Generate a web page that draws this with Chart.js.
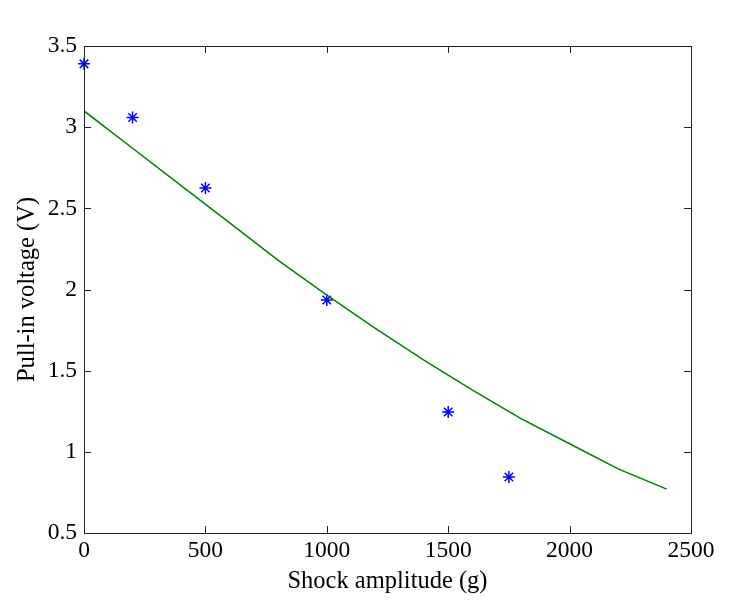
<!DOCTYPE html>
<html>
<head>
<meta charset="utf-8">
<script src="https://cdn.jsdelivr.net/npm/chart.js@4/dist/chart.umd.min.js"></script>
<style>
  html, body { margin: 0; padding: 0; background: #fff; }
  #wrap { width: 750px; height: 613px; }
</style>
</head>
<body>
<div id="wrap"><canvas id="canvas" width="750" height="613"></canvas></div>
<script>
// simulated curve
const modelX = [0, 200, 400, 600, 800, 1000, 1200, 1400, 1600, 1800, 2000, 2200, 2400];
const modelV = [3.10, 2.87, 2.64, 2.41, 2.18, 1.965, 1.76, 1.565, 1.38, 1.205, 1.05, 0.895, 0.77];

// measured points
const measX = [0, 200, 500, 1000, 1500, 1750];
const measV = [3.39, 3.06, 2.625, 1.935, 1.245, 0.845];

const xTicks = [0, 500, 1000, 1500, 2000, 2500];
const yTicks = [0.5, 1, 1.5, 2, 2.5, 3, 3.5];

const tickFont = { family: "'Liberation Serif', 'Times New Roman', serif", size: 23.5 };
const titleFont = { family: "'Liberation Serif', 'Times New Roman', serif", size: 24.5 };
const axisColor = "#222";

// matlab-style box with inward ticks on all four sides
const boxTicks = {
  id: "boxTicks",
  afterDraw(chart) {
    const { ctx, chartArea: a, scales } = chart;
    const len = 7;
    ctx.save();
    ctx.strokeStyle = axisColor;
    ctx.lineWidth = 1;
    ctx.strokeRect(a.left + 0.5, a.top + 0.5, a.right - a.left, a.bottom - a.top);
    ctx.beginPath();
    xTicks.forEach((v) => {
      const px = Math.round(scales.x.getPixelForValue(v)) + 0.5;
      ctx.moveTo(px, a.bottom);
      ctx.lineTo(px, a.bottom - len);
      ctx.moveTo(px, a.top);
      ctx.lineTo(px, a.top + len);
    });
    yTicks.forEach((v) => {
      const py = Math.round(scales.y.getPixelForValue(v)) + 0.5;
      ctx.moveTo(a.left, py);
      ctx.lineTo(a.left + len, py);
      ctx.moveTo(a.right, py);
      ctx.lineTo(a.right - len, py);
    });
    ctx.stroke();
    ctx.restore();
  },
};

const ctx = document.getElementById("canvas").getContext("2d");

new Chart(ctx, {
  type: "scatter",
  data: {
    datasets: [
      {
        label: "Model",
        data: modelX.map((x, i) => ({ x: x, y: modelV[i] })),
        showLine: true,
        borderColor: "#008000",
        borderWidth: 1.5,
        pointRadius: 0,
        tension: 0,
      },
      {
        label: "Measured",
        data: measX.map((x, i) => ({ x: x, y: measV[i] })),
        pointStyle: "star",
        pointRadius: 6,
        borderColor: "#0000ff",
        backgroundColor: "#0000ff",
        borderWidth: 1.5,
        clip: false,
      },
    ],
  },
  options: {
    responsive: false,
    animation: false,
    layout: { padding: { left: 0, top: 46, right: 59, bottom: 0 } },
    plugins: {
      legend: { display: false },
      tooltip: { enabled: false },
    },
    scales: {
      x: {
        type: "linear",
        min: 0,
        max: 2500,
        afterBuildTicks: (scale) => {
          scale.ticks = xTicks.map((v) => ({ value: v }));
        },
        afterFit: (scale) => {
          scale.height = 80;
        },
        ticks: {
          color: "#000",
          font: tickFont,
          padding: 4,
          maxRotation: 0,
          autoSkip: false,
          callback: (v) => String(v),
        },
        grid: { display: false, drawTicks: false },
        border: { display: false },
        title: {
          display: true,
          text: "Shock amplitude (g)",
          color: "#000",
          font: titleFont,
          padding: { top: 0, bottom: 17 },
        },
      },
      y: {
        type: "linear",
        min: 0.5,
        max: 3.5,
        afterBuildTicks: (scale) => {
          scale.ticks = yTicks.map((v) => ({ value: v }));
        },
        afterFit: (scale) => {
          scale.width = 84;
        },
        ticks: {
          color: "#000",
          font: tickFont,
          padding: 7,
          autoSkip: false,
          callback: (v) => String(v),
        },
        grid: { display: false, drawTicks: false },
        border: { display: false },
        title: {
          display: true,
          text: "Pull-in voltage (V)",
          color: "#000",
          font: titleFont,
          padding: { top: 13, bottom: 0 },
        },
      },
    },
  },
  plugins: [boxTicks],
});
</script>
</body>
</html>
